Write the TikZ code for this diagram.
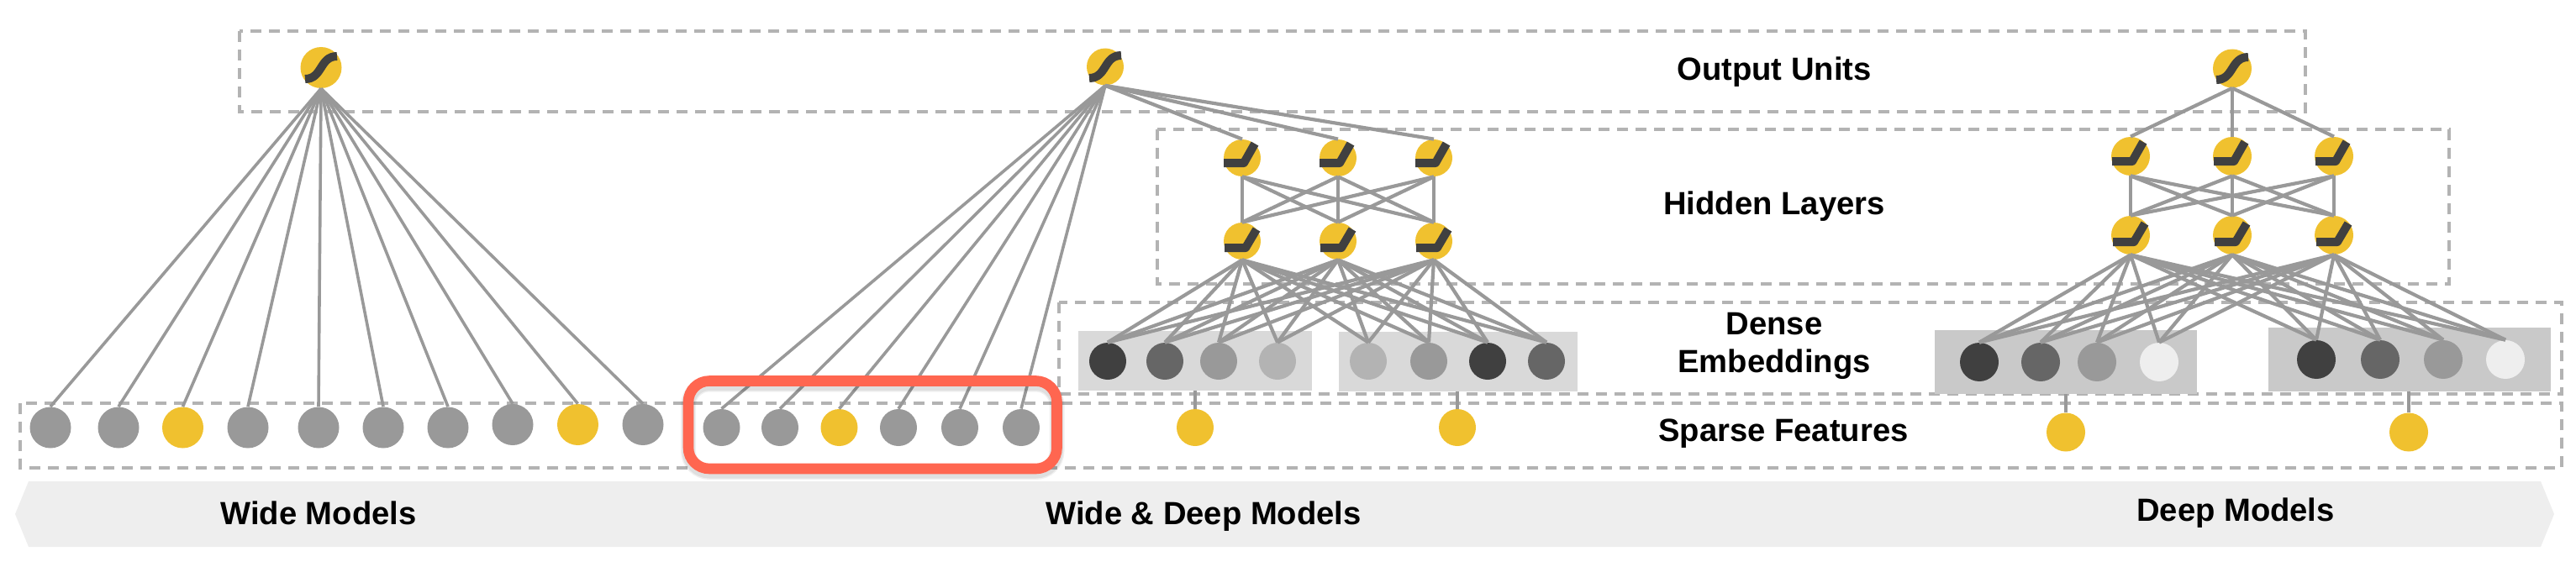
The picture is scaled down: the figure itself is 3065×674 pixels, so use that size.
\documentclass[tikz,border=0pt]{standalone}
\usepackage{fontspec}
\setmainfont{Liberation Sans}
\definecolor{unitgold}{HTML}{F0C12F}
\definecolor{glyphdark}{HTML}{404040}
\definecolor{linkgray}{HTML}{999999}
\definecolor{dashgray}{HTML}{B3B3B3}
\definecolor{bandgray}{HTML}{EEEEEE}
\definecolor{hlred}{HTML}{FF6650}
\tikzset{
  x=0.5pt,y=-0.5pt,
  unit/.style={circle,inner sep=0pt,draw=none,minimum size=#1*1pt},
  unit/.default=22,
  gold/.style={unit=#1,fill=unitgold},
  gold/.default=22,
  bar/.style={rectangle,inner sep=0pt,draw=none,fill=#1},
  zone/.style={draw=dashgray,line width=2pt,dash pattern=on 6.5pt off 4.5pt},
  link/.style={draw=linkgray,line width=2.1pt},
  thin link/.style={draw=linkgray,line width=1.8pt},
  curvemark/.style={draw=glyphdark,line width=5pt,line join=round},
  caption/.style={font=\bfseries\fontsize{19.1pt}{22pt}\selectfont,text=black,inner sep=0pt,anchor=base},
}
\newcommand{\sigmark}[1]{\draw[curvemark,shift={(#1)}] (-19,13.5) .. controls (2,13.5) and (-2,-13.5) .. (19,-13.5);}
\newcommand{\relumark}[1]{\draw[curvemark,shift={(#1)}] (-22,6) -- (2,6) -- (15,-17);}
\newcommand{\relumarkb}[1]{\draw[curvemark,shift={(#1)}] (-21,8) -- (4,8) -- (17,-14);}
\begin{document}
\begin{tikzpicture}
\useasboundingbox (0,0) rectangle (3065,674);
% band
\fill[bandgray] (18,612) -- (34,573) -- (3023,573) -- (3039,612) -- (3023,651) -- (34,651) -- cycle;
% dashed zones
\draw[zone] (285,37) rectangle (2743,133);
\draw[zone] (1377,154) rectangle (2914,338);
\draw[zone] (1259.5,360) rectangle (3048,468.5);
\draw[zone] (24,480) rectangle (3048,557);
% grey bars
\node[bar=black!15,minimum width=139pt,minimum height=35.5pt] (ga) at (1422,429.5) {};
\node[bar=black!15,minimum width=142pt,minimum height=35.3pt] (gb) at (1735,430.3) {};
\node[bar=black!21,minimum width=156pt,minimum height=37.8pt] (gc) at (2458,431) {};
\node[bar=black!21,minimum width=167.8pt,minimum height=37.8pt] (gd) at (2866.7,428) {};
% wide
\node[gold=24.5] (wo) at (382,80.5) {};
\foreach \n/\x/\y/\c in {1/60/509/linkgray,2/141/509/linkgray,3/217.5/509/unitgold,4/295/509/linkgray,5/379/509/linkgray,6/456/509/linkgray,7/533/509/linkgray,8/610/505.5/linkgray,9/687.5/505.5/unitgold,10/765/505.5/linkgray}
  \node[unit=24.5,fill=\c] (w\n) at (\x,\y) {};
\foreach \n in {1,...,10} \draw[thin link] (wo.south) -- (w\n.north);
\sigmark{wo}
% wide and deep
\node[gold=22] (mo) at (1315,79.5) {};
\foreach \n/\x/\c in {1/858.5/linkgray,2/928/linkgray,3/998.5/unitgold,4/1069/linkgray,5/1142/linkgray,6/1215/linkgray}
  \node[unit=22,fill=\c] (m\n) at (\x,509) {};
\foreach \n in {1,...,6} \draw[thin link] (mo.south) -- (m\n.north);
\foreach \n/\x in {1/1478,2/1592,3/1706} {
  \node[gold=22] (mu\n) at (\x,188) {};
  \node[gold=22] (ml\n) at (\x,287) {};
}
\foreach \n/\x/\c in {1/1318/glyphdark,2/1386/black!60,3/1450/linkgray,4/1520/dashgray,5/1628/dashgray,6/1700/linkgray,7/1770/glyphdark,8/1840/black!60}
  \node[unit=22,fill=\c] (me\n) at (\x,430) {};
\foreach \a in {1,2,3} {
  \draw[link] (mo.south) -- (mu\a.north);
  \foreach \b in {1,2,3} \draw[link] (mu\a.south) -- (ml\b.north);
  \foreach \b in {1,...,8} \draw[link] (ml\a.south) -- (me\b.north);
}
\sigmark{mo}
\foreach \a in {1,2,3} {\relumark{mu\a} \relumarkb{ml\a}}
\node[gold=22] (my1) at (1422,509) {};
\node[gold=22] (my2) at (1734,509) {};
\draw[link] (my1.north |- ga.south) -- (my1.north);
\draw[link] (my2.north |- gb.south) -- (my2.north);
% deep
\node[gold=23] (do) at (2656,81.5) {};
\foreach \n/\x in {1/2535,2/2656,3/2777} {
  \node[gold=23] (du\n) at (\x,186) {};
  \node[gold=23] (dl\n) at (\x,280) {};
}
\foreach \n/\x/\y/\c in {1/2355/431/glyphdark,2/2428/431/black!60,3/2495/431/linkgray,4/2569/431/bandgray,5/2756/428/glyphdark,6/2832/428/black!60,7/2907/428/linkgray,8/2981/428/bandgray}
  \node[unit=23,fill=\c] (de\n) at (\x,\y) {};
\foreach \a in {1,2,3} {
  \draw[link] (do.south) -- (du\a.north);
  \foreach \b in {1,2,3} \draw[link] (du\a.south) -- (dl\b.north);
  \foreach \b in {1,...,8} \draw[link] (dl\a.south) -- (de\b.north);
}
\sigmark{do}
\foreach \a in {1,2,3} {\relumark{du\a} \relumarkb{dl\a}}
\node[gold=23] (dy1) at (2458,514.5) {};
\node[gold=23] (dy2) at (2866,514.5) {};
\draw[link] (dy1.north |- gc.south) -- (dy1.north);
\draw[link] (dy2.north |- gd.south) -- (dy2.north);
% highlight
\foreach \o/\w in {.06/9,.07/7.5}
  \draw[black,opacity=\o,line width=\w pt,rounded corners=12.5pt] (819,457.5) rectangle (1257.5,562);
\draw[hlred,line width=6.3pt,rounded corners=12.5pt] (819,453.5) rectangle (1257.5,558);
% captions
\node[caption] (t1) at (2111,96) {Output Units};
\node[caption] (t2) at (2111,255) {Hidden Layers};
\node[caption] (t3) at (2111,398.5) {Dense};
\node[caption] (t4) at (2111,443) {Embeddings};
\node[caption] (t5) at (2122,525.5) {Sparse Features};
\node[caption] (t6) at (379,624) {Wide Models};
\node[caption] (t7) at (1432,624) {Wide \& Deep Models};
\node[caption] (t8) at (2660,620.5) {Deep Models};
\end{tikzpicture}
\end{document}
